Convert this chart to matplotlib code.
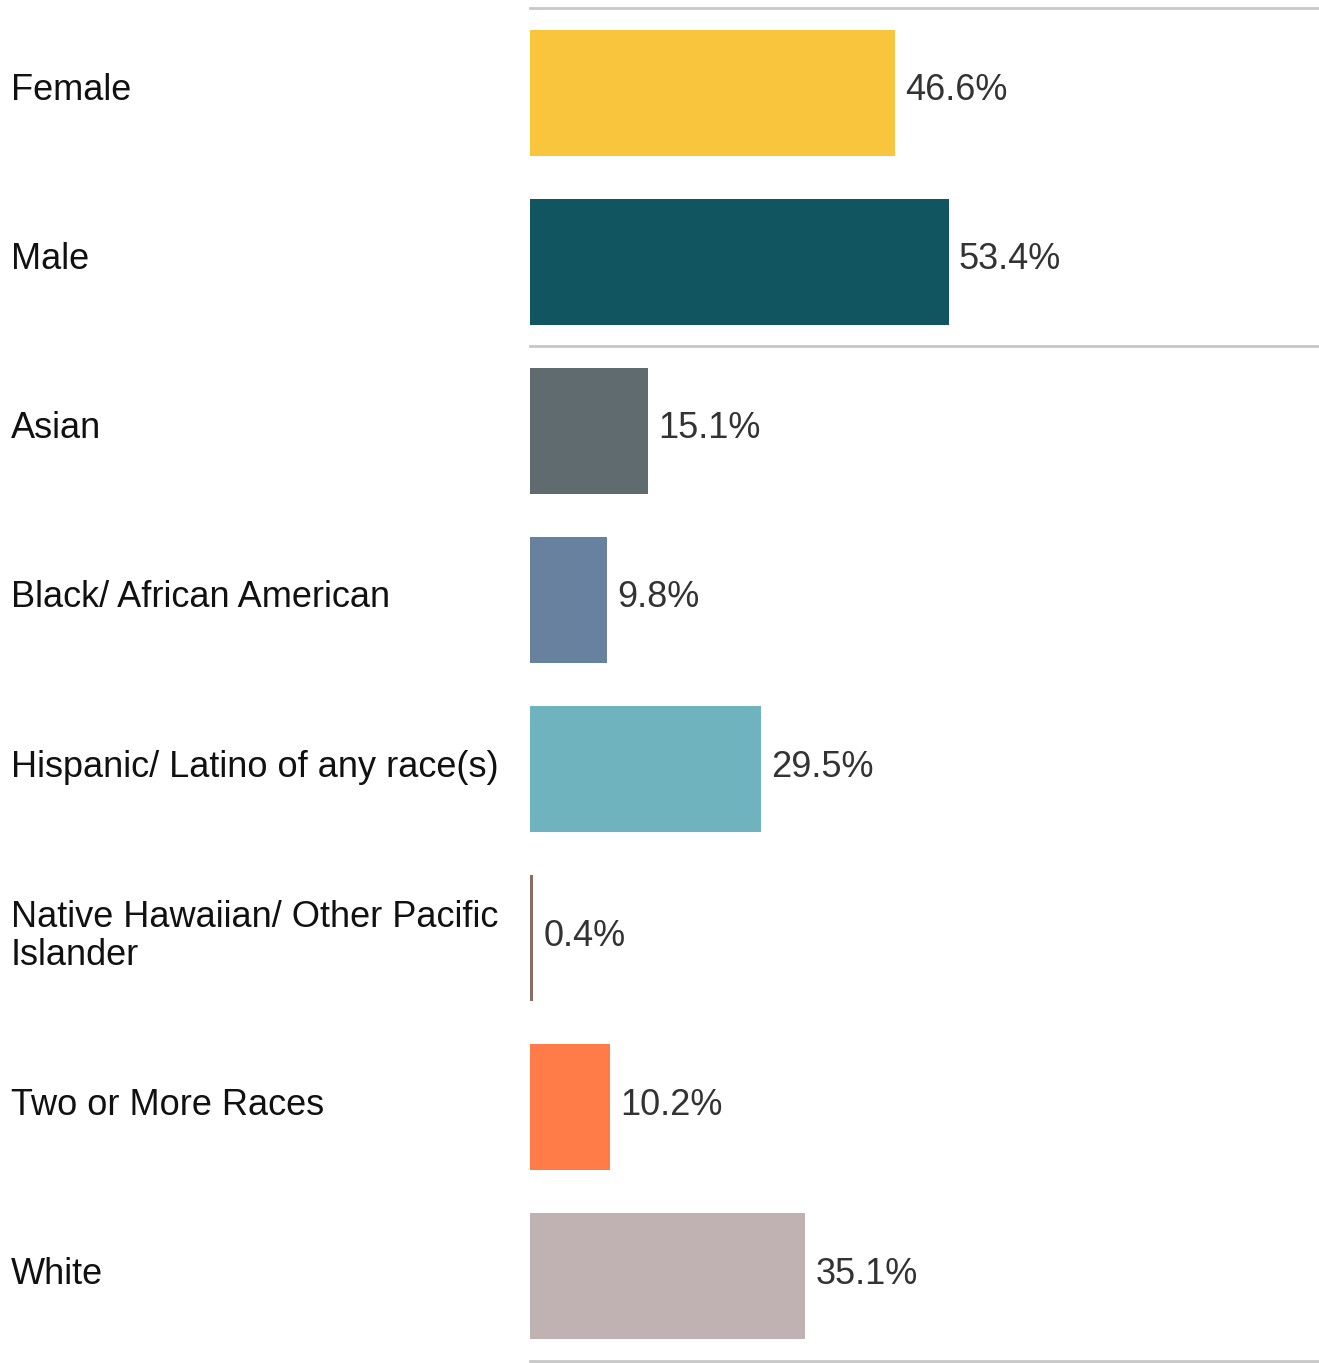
import matplotlib.pyplot as plt
import matplotlib.transforms as mtransforms

categories = ["Female", "Male", "Asian", "Black/ African American",
              "Hispanic/ Latino of any race(s)",
              "Native Hawaiian/ Other Pacific\nIslander",
              "Two or More Races", "White"]
values = [46.6, 53.4, 15.1, 9.8, 29.5, 0.4, 10.2, 35.1]
colors = ["#F9C53C", "#10555F", "#5F6B6F", "#68819E",
          "#6EB3BE", "#8B6E62", "#FF7C48", "#C0B1B3"]
separators = [-0.5, 1.5, 7.5]

plt.rcParams['font.family'] = ['Liberation Sans', 'DejaVu Sans']

W, H = 1319, 1363
fig = plt.figure(figsize=(W / 100, H / 100), dpi=100)
ax = fig.add_axes([530 / W, 2 / H, (W - 530) / W, 1353 / H])

ypos = list(range(len(categories)))
ax.barh(ypos, values, height=0.745, color=colors)
ax.set_xlim(0, 100.6)
ax.set_ylim(7.5, -0.5)
ax.axis("off")

for y in separators:
    ax.axhline(y, color="#c8c8c8", linewidth=2, clip_on=False)

trans = mtransforms.blended_transform_factory(fig.transFigure, ax.transData)
lift = mtransforms.offset_copy(trans, fig=fig, x=0, y=2, units="dots")
for y, cat in zip(ypos, categories):
    ax.text(11 / W, y, cat, transform=lift, ha="left", va="center",
            fontsize=26, color="#111111", linespacing=1.1)

offset = mtransforms.offset_copy(ax.transData, fig=fig, x=10, y=2, units="dots")
for y, v in zip(ypos, values):
    ax.text(v, y, f"{v:.1f}%", transform=offset, ha="left", va="center",
            fontsize=26, color="#333333")

fig.savefig("out.png", dpi=100)
